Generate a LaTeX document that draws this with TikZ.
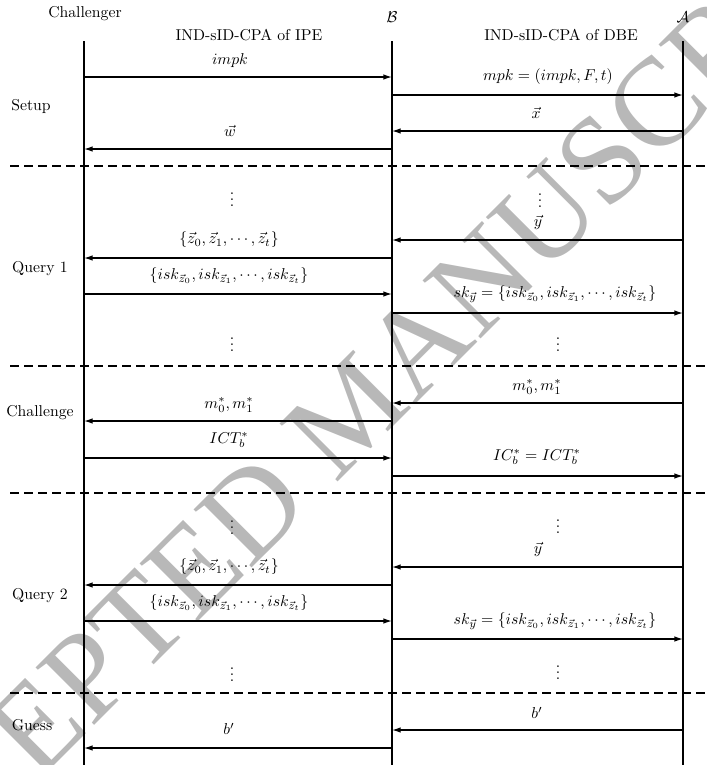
\documentclass[tikz,border=0pt]{standalone}
\usepackage{fontspec}
\newfontfamily\wmfont{Liberation Serif}
\usetikzlibrary{arrows.meta}
\definecolor{wmgray}{RGB}{184,184,184}
\begin{document}
\begin{tikzpicture}[x=0.75pt,y=-0.75pt,
  lbl/.style={inner sep=0pt, scale=1.18},
  life/.style={line width=1.3pt},
  msg/.style={line width=1pt, -{Latex[length=6.5pt,width=4.2pt]}},
  sep/.style={line width=1.1pt, dash pattern=on 6.5pt off 4pt},
  wm/.style={inner sep=0pt, rotate=45, text=wmgray, font=\fontsize{94}{94}\selectfont\wmfont}]
\useasboundingbox (0,0) rectangle (707,765);
% watermark
\node[wm] (wmark) at (352,410) {ACCEPTED MANUSCRIPT};
% headers
\node[lbl] (ch) at (85,14) {Challenger};
\node[lbl] (bh) at (392,17) {$\mathcal{B}$};
\node[lbl] (ah) at (683,17) {$\mathcal{A}$};
\node[lbl] (ipe) at (249,35) {IND-sID-CPA of IPE};
\node[lbl] (dbe) at (561,35) {IND-sID-CPA of DBE};
% lifelines
\coordinate (ct) at (84,41); \coordinate (cb) at (84,765);
\coordinate (bt) at (392,41); \coordinate (bb) at (392,765);
\coordinate (at) at (683,41); \coordinate (ab) at (683,765);
\draw[life] (ct) -- (cb);
\draw[life] (bt) -- (bb);
\draw[life] (at) -- (ab);
% separators
\foreach \yy/\nm in {166/s1,366/s2,493/s3,693/s4}{
  \coordinate (\nm l) at (10,\yy); \coordinate (\nm r) at (707,\yy);
  \draw[sep] (\nm l) -- (\nm r);
}
% phase labels
\node[lbl] (setup) at (31,106) {Setup};
\node[lbl] (q1) at (40,269) {Query 1};
\node[lbl] (chal) at (40,413) {Challenge};
\node[lbl] (q2) at (40,596) {Query 2};
\node[lbl] (guess) at (32,725) {Guess};
% ---- Setup
\coordinate (c1) at (84,77); \coordinate (b1) at (392,77);
\draw[msg] (c1) -- (b1);
\node[lbl] (l1) at (230,61) {$impk$};
\coordinate (b2) at (392,95); \coordinate (a2) at (683,95);
\draw[msg] (b2) -- (a2);
\node[lbl] (l2) at (548,77) {$mpk=(impk,F,t)$};
\coordinate (a3) at (683,131); \coordinate (b3) at (392,131);
\draw[msg] (a3) -- (b3);
\node[lbl] (l3) at (536,113) {$\vec{x}$};
\coordinate (b4) at (392,149); \coordinate (c4) at (84,149);
\draw[msg] (b4) -- (c4);
\node[lbl] (l4) at (230,131) {$\vec{w}$};
% ---- Query 1
\node[lbl] (d1) at (232,195) {$\vdots$};
\node[lbl] (d2) at (540,196) {$\vdots$};
\coordinate (a5) at (683,240); \coordinate (b5) at (392,240);
\draw[msg] (a5) -- (b5);
\node[lbl] (l5) at (538,222) {$\vec{y}$};
\coordinate (b6) at (392,258); \coordinate (c6) at (84,258);
\draw[msg] (b6) -- (c6);
\node[lbl] (l6) at (229,240) {$\{\vec{z}_0,\vec{z}_1,\cdots,\vec{z}_t\}$};
\coordinate (c7) at (84,294); \coordinate (b7) at (392,294);
\draw[msg] (c7) -- (b7);
\node[lbl] (l7) at (229,276) {$\{isk_{\vec{z}_0},isk_{\vec{z}_1},\cdots,isk_{\vec{z}_t}\}$};
\coordinate (b8) at (392,313); \coordinate (a8) at (683,313);
\draw[msg] (b8) -- (a8);
\node[lbl] (l8) at (555,294) {$sk_{\vec{y}}=\{isk_{\vec{z}_0},isk_{\vec{z}_1},\cdots,isk_{\vec{z}_t}\}$};
\node[lbl] (d3) at (232,340) {$\vdots$};
\node[lbl] (d4) at (558,340) {$\vdots$};
% ---- Challenge
\coordinate (a9) at (683,403); \coordinate (b9) at (392,403);
\draw[msg] (a9) -- (b9);
\node[lbl] (l9) at (537,387) {$m_0^*,m_1^*$};
\coordinate (b10) at (392,421); \coordinate (c10) at (84,421);
\draw[msg] (b10) -- (c10);
\node[lbl] (l10) at (229,405) {$m_0^*,m_1^*$};
\coordinate (c11) at (84,458); \coordinate (b11) at (392,458);
\draw[msg] (c11) -- (b11);
\node[lbl] (l11) at (229,440) {$ICT_b^*$};
\coordinate (b12) at (392,476); \coordinate (a12) at (683,476);
\draw[msg] (b12) -- (a12);
\node[lbl] (l12) at (537,457) {$IC_b^*=ICT_b^*$};
% ---- Query 2
\node[lbl] (d5) at (232,523) {$\vdots$};
\node[lbl] (d6) at (558,522) {$\vdots$};
\coordinate (a13) at (683,567); \coordinate (b13) at (392,567);
\draw[msg] (a13) -- (b13);
\node[lbl] (l13) at (538,549) {$\vec{y}$};
\coordinate (b14) at (392,585); \coordinate (c14) at (84,585);
\draw[msg] (b14) -- (c14);
\node[lbl] (l14) at (229,567) {$\{\vec{z}_0,\vec{z}_1,\cdots,\vec{z}_t\}$};
\coordinate (c15) at (84,621); \coordinate (b15) at (392,621);
\draw[msg] (c15) -- (b15);
\node[lbl] (l15) at (229,603) {$\{isk_{\vec{z}_0},isk_{\vec{z}_1},\cdots,isk_{\vec{z}_t}\}$};
\coordinate (b16) at (392,639); \coordinate (a16) at (683,639);
\draw[msg] (b16) -- (a16);
\node[lbl] (l16) at (555,621) {$sk_{\vec{y}}=\{isk_{\vec{z}_0},isk_{\vec{z}_1},\cdots,isk_{\vec{z}_t}\}$};
\node[lbl] (d7) at (232,670) {$\vdots$};
\node[lbl] (d8) at (558,668) {$\vdots$};
% ---- Guess
\coordinate (a17) at (683,730); \coordinate (b17) at (392,730);
\draw[msg] (a17) -- (b17);
\node[lbl] (l17) at (537,713) {$b'$};
\coordinate (b18) at (392,748); \coordinate (c18) at (84,748);
\draw[msg] (b18) -- (c18);
\node[lbl] (l18) at (229,729) {$b'$};
\end{tikzpicture}
\end{document}
